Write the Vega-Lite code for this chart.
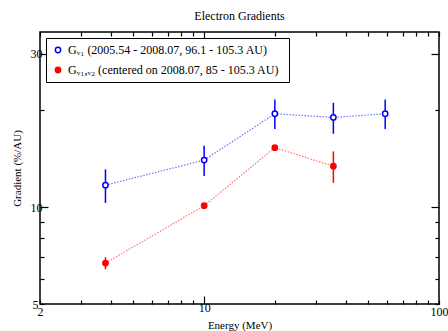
{
  "$schema": "https://vega.github.io/schema/vega-lite/v6.json",
  "width": 399,
  "height": 272,
  "autosize": "none",
  "padding": {"left": 40, "top": 32, "right": 9, "bottom": 27},
  "background": "white",
  "config": {
    "font": "Liberation Serif",
    "view": {"stroke": "black", "strokeWidth": 1.5},
    "axis": {"domain": false, "grid": false, "tickColor": "black", "tickWidth": 1.2, "labelFont": "Liberation Serif", "labelFontSize": 12, "labelColor": "black", "titleFont": "Liberation Serif", "titleFontSize": 11, "titleFontWeight": "normal", "titleColor": "black"},
    "legend": {"labelFont": "Liberation Serif", "labelFontSize": 12},
    "title": {"font": "Liberation Serif", "fontSize": 12, "fontWeight": "normal", "offset": 8}
  },
  "title": "Electron Gradients",
  "data": {
    "values": [
      {"energy": 3.8, "grad": 11.7, "lo": 10.3, "hi": 13.1, "series": "Gᵥ₁  (2005.54 - 2008.07, 96.1 - 105.3 AU)"},
      {"energy": 10, "grad": 14.0, "lo": 12.5, "hi": 15.5, "series": "Gᵥ₁  (2005.54 - 2008.07, 96.1 - 105.3 AU)"},
      {"energy": 20, "grad": 19.5, "lo": 17.5, "hi": 21.6, "series": "Gᵥ₁  (2005.54 - 2008.07, 96.1 - 105.3 AU)"},
      {"energy": 35.5, "grad": 19.0, "lo": 16.9, "hi": 21.1, "series": "Gᵥ₁  (2005.54 - 2008.07, 96.1 - 105.3 AU)"},
      {"energy": 59, "grad": 19.5, "lo": 17.5, "hi": 21.6, "series": "Gᵥ₁  (2005.54 - 2008.07, 96.1 - 105.3 AU)"},
      {"energy": 3.8, "grad": 6.7, "lo": 6.41, "hi": 6.98, "series": "Gᵥ₁,ᵥ₂  (centered on 2008.07, 85 - 105.3 AU)"},
      {"energy": 10, "grad": 10.1, "lo": 10.1, "hi": 10.1, "series": "Gᵥ₁,ᵥ₂  (centered on 2008.07, 85 - 105.3 AU)"},
      {"energy": 20, "grad": 15.3, "lo": 15.3, "hi": 15.3, "series": "Gᵥ₁,ᵥ₂  (centered on 2008.07, 85 - 105.3 AU)"},
      {"energy": 35.5, "grad": 13.4, "lo": 11.9, "hi": 14.9, "series": "Gᵥ₁,ᵥ₂  (centered on 2008.07, 85 - 105.3 AU)"}
    ]
  },
  "resolve": {"axis": {"x": "independent", "y": "independent"}},
  "layer": [
    {
      "mark": {"type": "line", "strokeDash": [1.5, 1.5], "strokeWidth": 1.2, "opacity": 0.55},
      "encoding": {
        "x": {"field": "energy", "type": "quantitative", "scale": {"type": "log", "domain": [2, 100], "nice": false},
          "axis": {"orient": "bottom", "title": "Energy (MeV)", "titlePadding": 2, "values": [2,3,4,5,6,7,8,9,10,20,30,40,50,60,70,80,90,100],
            "tickSize": {"condition": {"test": "datum.value == 10", "value": -8}, "value": -4},
            "labelExpr": "datum.value == 2 || datum.value == 10 || datum.value == 100 ? datum.value : ''", "labelPadding": 6, "labelFlush": false}},
        "y": {"field": "grad", "type": "quantitative", "scale": {"type": "log", "domain": [5, 35], "nice": false},
          "axis": {"orient": "left", "title": "Gradient  (%/AU)", "titlePadding": 8, "values": [5,6,7,8,9,10,20,30],
            "tickSize": {"condition": {"test": "datum.value == 10 || datum.value == 30", "value": -8}, "value": -4},
            "labelExpr": "datum.value == 5 || datum.value == 10 || datum.value == 30 ? datum.value : ''", "labelPadding": 6}},
        "stroke": {"field": "series", "type": "nominal", "scale": {"range": ["#0000ff", "#ff0000"]},
          "legend": {"orient": "top-left", "offset": 6, "title": null, "strokeColor": "black", "fillColor": "white", "padding": 6, "labelFont": "Liberation Serif", "labelFontSize": 12, "labelColor": "black", "labelLimit": 400, "symbolType": "circle", "symbolSize": 28, "symbolStrokeWidth": 1.5, "symbolDash": [], "symbolOpacity": 1, "rowPadding": 8,
            "encode": {"symbols": {"update": {"stroke": {"scale": "stroke", "field": "value"}, "fill": {"signal": "indexof(datum.value, 'centered') > 0 ? '#ff0000' : 'white'"}, "strokeDash": {"value": []}, "opacity": {"value": 1}}}}}},
        "detail": {"field": "series"}
      }
    },
    {
      "mark": {"type": "rule", "strokeWidth": 1.5},
      "encoding": {
        "x": {"field": "energy", "type": "quantitative",
          "axis": {"orient": "top", "title": null, "labels": false, "values": [2,3,4,5,6,7,8,9,10,20,30,40,50,60,70,80,90,100],
            "tickSize": {"condition": {"test": "datum.value == 10", "value": -8}, "value": -4}}},
        "y": {"field": "lo", "type": "quantitative",
          "axis": {"orient": "right", "title": null, "labels": false, "values": [5,6,7,8,9,10,20,30],
            "tickSize": {"condition": {"test": "datum.value == 10 || datum.value == 30", "value": -8}, "value": -4}}},
        "y2": {"field": "hi"},
        "stroke": {"field": "series", "type": "nominal"}
      }
    },
    {
      "mark": {"type": "point", "shape": "circle", "size": 28, "strokeWidth": 1.5, "opacity": 1},
      "encoding": {
        "x": {"field": "energy", "type": "quantitative", "axis": null},
        "y": {"field": "grad", "type": "quantitative", "axis": null},
        "stroke": {"field": "series", "type": "nominal"},
        "fill": {"field": "series", "type": "nominal", "scale": {"range": ["white", "#ff0000"]}, "legend": null}
      }
    }
  ]
}
